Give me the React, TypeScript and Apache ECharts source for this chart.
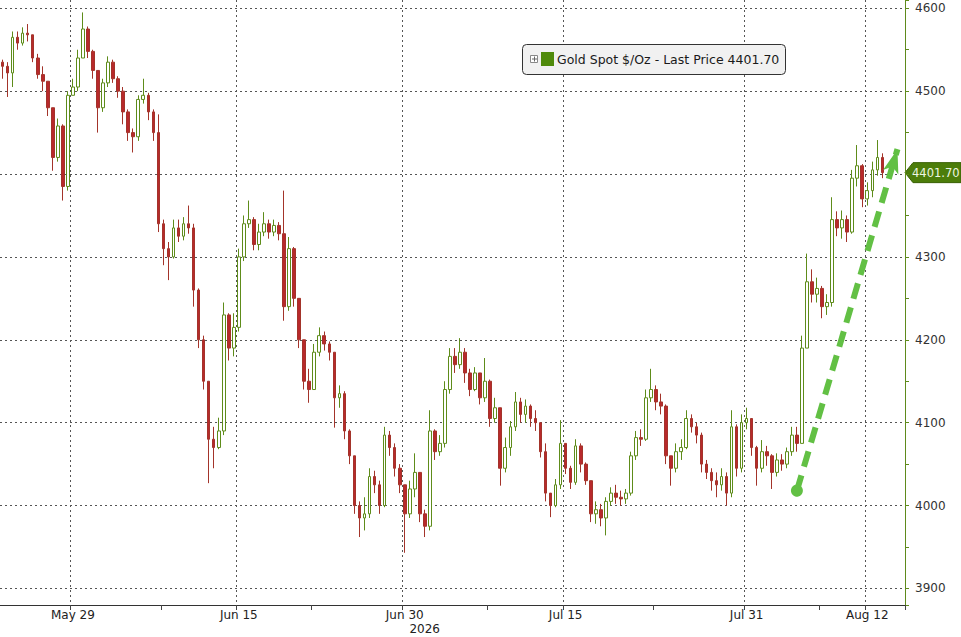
import React, { useEffect, useRef } from "react";
import * as echarts from "echarts";

// Trading days shown on the chart; most days carry 3 intraday bars
const days = [
  "May 22", "May 25", "May 26", "May 27", "May 28", "May 29",
  "Jun 1", "Jun 2", "Jun 3", "Jun 4", "Jun 5",
  "Jun 8", "Jun 9", "Jun 10", "Jun 11", "Jun 12",
  "Jun 15", "Jun 16", "Jun 17", "Jun 18", "Jun 19",
  "Jun 22", "Jun 23", "Jun 24", "Jun 25", "Jun 26",
  "Jun 29", "Jun 30", "Jul 1", "Jul 2", "Jul 3",
  "Jul 6", "Jul 7", "Jul 8", "Jul 9", "Jul 10",
  "Jul 13", "Jul 14", "Jul 15", "Jul 16", "Jul 17",
  "Jul 20", "Jul 21", "Jul 22", "Jul 23", "Jul 24",
  "Jul 27", "Jul 28", "Jul 29", "Jul 30", "Jul 31",
  "Aug 3", "Aug 4", "Aug 5", "Aug 6", "Aug 7",
  "Aug 10", "Aug 11", "Aug 12", "Aug 13", "Aug 14",
];
const shortDays: Record<string, number> = { "May 22": 2, "Jul 3": 2, "Aug 14": 2 };
const labelDays = ["May 29", "Jun 15", "Jun 30", "Jul 15", "Jul 31", "Aug 12"];
const minorTickDays = ["Jun 8", "Jun 22", "Jul 8", "Jul 23", "Aug 7"];
const yearLabel = "2026";

const firstOpen = 4535;
const closes = [
  4530, 4522, 4565, 4558, 4570, 4568, 4540, 4520, 4512, 4480,
  4420, 4458, 4385, 4495, 4505, 4540, 4575, 4548, 4525, 4480,
  4510, 4535, 4515, 4500, 4475, 4450, 4445, 4490, 4495, 4475,
  4450, 4340, 4310, 4300, 4335, 4325, 4340, 4335, 4260, 4200,
  4150, 4080, 4070, 4090, 4230, 4190, 4215, 4300, 4340, 4345,
  4315, 4330, 4340, 4330, 4338, 4328, 4240, 4310, 4250, 4200,
  4150, 4140, 4185, 4205, 4195, 4185, 4130, 4135, 4090, 4060,
  4000, 3985, 3990, 4035, 4025, 4000, 4085, 4070, 4045, 4025,
  3990, 4020, 4040, 3990, 3975, 4090, 4065, 4075, 4140, 4180,
  4170, 4185, 4160, 4140, 4160, 4130, 4150, 4105, 4118, 4045,
  4070, 4095, 4125, 4110, 4120, 4105, 4100, 4065, 4015, 4000,
  4025, 4075, 4045, 4028, 4072, 4050, 4030, 3990, 3995, 3985,
  4005, 4015, 4010, 4008, 4015, 4060, 4082, 4080, 4130, 4140,
  4125, 4120, 4060, 4045, 4065, 4070, 4105, 4095, 4085, 4050,
  4040, 4030, 4025, 4035, 4015, 4095, 4045, 4100, 4105, 4070,
  4045, 4065, 4060, 4040, 4055, 4050, 4065, 4085, 4075, 4190,
  4270, 4255, 4262, 4240, 4245, 4345, 4335, 4345, 4330, 4395,
  4410, 4370, 4380, 4405, 4420, 4401.7,
];
const highs = [
  4538, 4535, 4572, 4572, 4577, 4581, 4565, 4545, 4530, 4505,
  4480, 4467, 4460, 4500, 4515, 4550, 4595, 4578, 4550, 4525,
  4515, 4542, 4538, 4518, 4505, 4478, 4455, 4495, 4515, 4498,
  4478, 4472, 4345, 4318, 4345, 4345, 4348, 4362, 4340, 4262,
  4205, 4150, 4095, 4106, 4245, 4232, 4232, 4310, 4350, 4368,
  4348, 4340, 4354, 4345, 4345, 4342, 4380, 4324, 4312, 4250,
  4200, 4165, 4195, 4215, 4210, 4198, 4185, 4145, 4138, 4092,
  4060, 4005, 4010, 4045, 4042, 4030, 4095, 4090, 4075, 4050,
  4025, 4030, 4063, 4040, 3995, 4115, 4092, 4085, 4150, 4190,
  4190, 4202, 4190, 4165, 4167, 4160, 4178, 4152, 4130, 4118,
  4082, 4102, 4137, 4130, 4128, 4122, 4115, 4100, 4075, 4012,
  4032, 4103, 4075, 4048, 4080, 4075, 4052, 4030, 4005, 4002,
  4010, 4022, 4025, 4018, 4020, 4065, 4090, 4092, 4140, 4165,
  4145, 4135, 4122, 4060, 4075, 4080, 4115, 4110, 4100, 4088,
  4055, 4045, 4040, 4045, 4040, 4115, 4098, 4110, 4118, 4105,
  4072, 4079, 4072, 4062, 4063, 4062, 4070, 4095, 4095, 4205,
  4304, 4285, 4275, 4265, 4255, 4372, 4355, 4356, 4350, 4405,
  4435, 4412, 4390, 4415, 4441, 4425,
];
const lows = [
  4515, 4493, 4505, 4550, 4555, 4560, 4535, 4515, 4500, 4470,
  4404, 4415, 4368, 4380, 4495, 4500, 4540, 4540, 4515, 4450,
  4475, 4505, 4510, 4492, 4460, 4440, 4426, 4440, 4485, 4465,
  4440, 4330, 4290, 4272, 4298, 4318, 4320, 4328, 4240, 4190,
  4140, 4027, 4045, 4068, 4085, 4175, 4180, 4210, 4295, 4335,
  4308, 4308, 4325, 4322, 4325, 4320, 4223, 4235, 4240, 4190,
  4140, 4124, 4140, 4180, 4187, 4175, 4094, 4118, 4080, 4050,
  3990, 3962, 3970, 3985, 4015, 3990, 3998, 4060, 4035, 4015,
  3943, 3985, 4010, 3980, 3962, 3970, 4055, 4060, 4070, 4135,
  4160, 4165, 4148, 4132, 4138, 4122, 4125, 4095, 4100, 4024,
  4040, 4060, 4090, 4100, 4100, 4095, 4090, 4058, 4005, 3986,
  3998, 4020, 4038, 4020, 4025, 4040, 4025, 3980, 3978, 3975,
  3964, 4000, 4002, 4000, 4002, 4012, 4055, 4072, 4078, 4125,
  4115, 4110, 4050, 4024, 4040, 4055, 4068, 4088, 4075, 4040,
  4032, 4018, 4010, 4018, 4000, 4010, 4035, 4040, 4092, 4060,
  4024, 4040, 4048, 4020, 4035, 4042, 4045, 4060, 4065, 4075,
  4190, 4245, 4245, 4226, 4230, 4240, 4325, 4322, 4318, 4328,
  4385, 4360, 4362, 4372, 4398, 4395,
];

const lastPrice = 4401.7;
const legendText = "Gold Spot $/Oz - Last Price 4401.70";
const tagText = "4401.70";

// Trend arrow annotation (bar index, price)
const arrowFromBar = 158;
const arrowFromPrice = 4018;
const arrowToBar = 178;
const arrowToPrice = 4430;

const yMin = 3880;
const yMax = 4610;

const FONT = "DejaVu Sans, Verdana, sans-serif";

export default function App() {
  const ref = useRef<HTMLDivElement>(null);

  useEffect(() => {
    document.body.style.margin = "0";
    const chart = echarts.init(ref.current!, null, { renderer: "svg" });

    const categories: string[] = days.flatMap((d) =>
      Array.from({ length: shortDays[d] ?? 3 }, (_, k) => `${d}|${k}`)
    );
    const isFirstOf = (v: string, set: string[]) => {
      const [d, k] = String(v).split("|");
      return k === "0" && set.includes(d);
    };

    const candles = closes.map((c, i) => {
      const o = i === 0 ? firstOpen : closes[i - 1];
      return [o, c, Math.min(lows[i], o, c), Math.max(highs[i], o, c)];
    });

    chart.setOption({
      animation: false,
      backgroundColor: "#ffffff",
      grid: { left: 0, right: 56, top: 0, bottom: 32, containLabel: false },
      xAxis: {
        type: "category",
        data: categories,
        boundaryGap: true,
        axisLine: { show: true, lineStyle: { color: "#333333", width: 1 } },
        axisTick: {
          show: true,
          length: 5,
          interval: (_i: number, v: string) => isFirstOf(v, labelDays) || isFirstOf(v, minorTickDays),
          lineStyle: { color: "#444444" },
        },
        axisLabel: {
          interval: (_i: number, v: string) => isFirstOf(v, labelDays),
          formatter: (v: string) => String(v).split("|")[0],
          color: "#222222",
          fontSize: 12,
          fontFamily: FONT,
          margin: 4,
        },
        splitLine: {
          show: true,
          interval: (_i: number, v: string) => isFirstOf(v, labelDays),
          lineStyle: { color: "#555555", type: [2, 3], width: 1 },
        },
      },
      yAxis: {
        type: "value",
        position: "right",
        min: yMin,
        max: yMax,
        splitNumber: 7,
        minInterval: 100,
        maxInterval: 100,
        scale: true,
        axisLine: { show: true, lineStyle: { color: "#5f8a1c", width: 1 } },
        axisTick: { show: true, length: 4, lineStyle: { color: "#5f8a1c" } },
        minorTick: { show: true, splitNumber: 2, length: 4, lineStyle: { color: "#5f8a1c" } },
        axisLabel: {
          color: "#333333",
          fontSize: 12,
          fontFamily: FONT,
          margin: 10,
          showMinLabel: false,
          showMaxLabel: false,
          // the last-price tag covers the label nearest to it
          formatter: (v: number) => (Math.abs(v - lastPrice) < 40 ? "" : String(v)),
        },
        splitLine: {
          show: true,
          showMinLine: false,
          showMaxLine: false,
          lineStyle: { color: "#555555", type: [2, 3], width: 1 },
        },
      },
      series: [
        {
          type: "candlestick",
          data: candles,
          barWidth: "62%",
          itemStyle: {
            color: "#ffffff",
            color0: "#b8292c",
            borderColor: "#5e8c1a",
            borderColor0: "#a3342a",
            borderWidth: 1,
          },
          markLine: {
            silent: true,
            animation: false,
            symbol: ["circle", "arrow"],
            symbolSize: [12, 24],
            label: { show: false },
            emphasis: { disabled: true },
            lineStyle: { color: "#62c044", width: 6, type: [16, 9], opacity: 1 },
            data: [
              [
                { coord: [categories[arrowFromBar], arrowFromPrice] },
                { coord: [categories[arrowToBar], arrowToPrice] },
              ],
            ],
          },
        },
      ],
    });

    const tagY = chart.convertToPixel({ yAxisIndex: 0 }, lastPrice) as number;
    const yearX =
      (chart.convertToPixel(
        { xAxisIndex: 0 },
        categories.find((c) => isFirstOf(c, ["Jun 30"]))!
      ) as number) + 20;

    chart.setOption({
      graphic: [
        {
          type: "group",
          x: 522,
          y: 44,
          children: [
            {
              type: "rect",
              shape: { x: 0.5, y: 0.5, width: 263, height: 30, r: 4 },
              style: { fill: "#f1f1f1", stroke: "#333333", lineWidth: 1 },
            },
            {
              type: "rect",
              shape: { x: 8.5, y: 11.5, width: 7, height: 7 },
              style: { fill: "#ffffff", stroke: "#888888", lineWidth: 1 },
            },
            { type: "line", shape: { x1: 10, y1: 15, x2: 15, y2: 15 }, style: { stroke: "#666666", lineWidth: 1 } },
            { type: "line", shape: { x1: 12.5, y1: 12.5, x2: 12.5, y2: 17.5 }, style: { stroke: "#666666", lineWidth: 1 } },
            {
              type: "rect",
              shape: { x: 19, y: 8, width: 13, height: 14 },
              style: { fill: "#4f8a0b" },
            },
            {
              type: "text",
              x: 35,
              y: 15.5,
              style: {
                text: legendText,
                fill: "#1a1a1a",
                font: `12.5px ${FONT}`,
                textVerticalAlign: "middle",
              },
            },
          ],
        },
        {
          type: "group",
          x: 0,
          y: tagY,
          z: 100,
          children: [
            {
              type: "polygon",
              shape: { points: [[905, 0], [913, -10], [961, -10], [961, 10], [913, 10]] },
              style: { fill: "#4c7d0a", stroke: "#3a6206", lineWidth: 1 },
            },
            {
              type: "text",
              x: 912,
              y: 0.5,
              style: {
                text: tagText,
                fill: "#eef7e2",
                font: `11.5px ${FONT}`,
                textVerticalAlign: "middle",
              },
            },
          ],
        },
        {
          type: "text",
          x: yearX,
          y: 629,
          style: {
            text: yearLabel,
            fill: "#222222",
            font: `12px ${FONT}`,
            textAlign: "center",
            textVerticalAlign: "middle",
          },
        },
      ],
    });

    return () => chart.dispose();
  }, []);

  return (
    <div
      ref={ref}
      style={{ position: "absolute", left: 0, top: 0, width: 961, height: 637 }}
    />
  );
}
